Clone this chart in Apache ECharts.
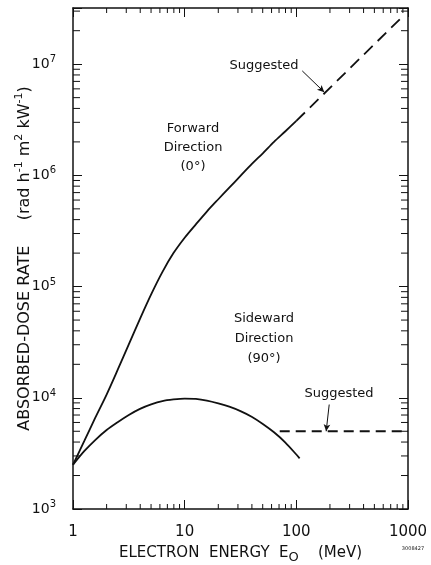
<!DOCTYPE html>
<html>
<head>
<meta charset="utf-8">
<style>
  html, body { margin: 0; padding: 0; background: #fff; }
  #chart { width: 431px; height: 565px; }
</style>
<script src="https://cdn.jsdelivr.net/npm/echarts@6/dist/echarts.min.js"></script>
</head>
<body>
<div id="chart"></div>
<script>
// axis ranges (log scale)
var X_MIN = 1, X_MAX = 1000;
var Y_MIN = 1000, Y_MAX = 3.2e7;

// forward direction (0 deg)
var forwardSolid = [[1, 2500], [1.26, 4070], [1.58, 6600], [2, 10700], [2.51, 17800], [3.16, 30200],
  [3.98, 51300], [5.01, 85100], [6.31, 135000], [7.94, 200000], [10, 275000], [12.6, 363000],
  [15.8, 473000], [20, 610000], [25.1, 776000], [31.6, 989000], [39.8, 1260000], [50.1, 1580000],
  [63.1, 2000000], [79.4, 2480000], [100, 3090000]];
var forwardSuggested = [[100, 3090000], [900, 27000000]];

// sideward direction (90 deg)
var sideSolid = [[1, 2500], [1.26, 3310], [1.58, 4170], [2, 5130], [2.51, 6030], [3.16, 7000],
  [3.98, 7940], [5.01, 8710], [6.31, 9330], [7.94, 9660], [10, 9840], [12.6, 9770], [15.8, 9440],
  [20, 8910], [25.1, 8320], [31.6, 7590], [39.8, 6760], [50.1, 5820], [63.1, 4900], [79.4, 3980],
  [100, 3090], [107, 2850]];
var sideSuggested = [[71, 5000], [1000, 5000]];

// "Suggested" pointer arrows
var arrowTop = [[113, 8.7e6], [178, 5.6e6]];
var arrowBottom = [[197, 8.7e3], [185, 5.0e3]];

// minor tick values
var xMinor = [2, 3, 4, 5, 6, 7, 8, 9, 20, 30, 40, 50, 60, 70, 80, 90, 200, 300, 400, 500, 600, 700, 800, 900];
var yMinor = [2e3, 3e3, 4e3, 5e3, 6e3, 7e3, 8e3, 9e3, 2e4, 3e4, 4e4, 5e4, 6e4, 7e4, 8e4, 9e4,
  2e5, 3e5, 4e5, 5e5, 6e5, 7e5, 8e5, 9e5, 2e6, 3e6, 4e6, 5e6, 6e6, 7e6, 8e6, 9e6, 2e7, 3e7];

var FONT = 'DejaVu Sans';
var INK = '#111';

function minorTicks(vals, isX) {
  return {
    type: 'custom',
    silent: true,
    clip: false,
    z: 5,
    data: vals.map(function (v) { return isX ? [v, Y_MIN] : [X_MIN, v]; }),
    renderItem: function (params, api) {
      var lines;
      if (isX) {
        var v = api.value(0);
        var a = api.coord([v, Y_MIN]), b = api.coord([v, Y_MAX]);
        lines = [[a[0], a[1], a[0], a[1] - 5], [b[0], b[1], b[0], b[1] + 5]];
      } else {
        var w = api.value(1);
        var c = api.coord([X_MIN, w]), d = api.coord([X_MAX, w]);
        lines = [[c[0], c[1], c[0] + 7, c[1]], [d[0], d[1], d[0] - 7, d[1]]];
      }
      return {
        type: 'group',
        children: lines.map(function (l) {
          return { type: 'line', shape: { x1: l[0], y1: l[1], x2: l[2], y2: l[3] }, style: { stroke: INK, lineWidth: 1 } };
        })
      };
    }
  };
}

function arrow(pts) {
  return {
    type: 'line', data: [], silent: true,
    markLine: {
      silent: true,
      symbol: ['none', 'arrow'],
      symbolSize: [5, 7],
      label: { show: false },
      lineStyle: { color: INK, width: 1, type: 'solid' },
      data: [[{ coord: pts[0] }, { coord: pts[1] }]]
    }
  };
}

var axisCommon = {
  type: 'log',
  logBase: 10,
  axisLine: { show: true, lineStyle: { color: INK, width: 1.5 } },
  axisTick: { show: true, inside: true, length: 9, lineStyle: { color: INK, width: 1 } },
  splitLine: { show: false },
  minorTick: { show: false }
};

var chart = echarts.init(document.getElementById('chart'), null, { renderer: 'canvas' });
chart.setOption({
  backgroundColor: '#fff',
  animation: false,
  textStyle: { fontFamily: FONT, color: INK },
  grid: { left: 73, right: 23, top: 8, bottom: 56, containLabel: false, outerBoundsMode: 'none' },
  xAxis: [
    Object.assign({}, axisCommon, {
      min: X_MIN, max: X_MAX, position: 'bottom',
      axisLabel: { show: true, margin: 16, fontSize: 15, fontFamily: FONT, color: INK,
        formatter: function (v) { return String(Math.round(v)); } },
      name: 'ELECTRON  ENERGY  E{sub|O}    (MeV)',
      nameLocation: 'middle',
      nameGap: 33,
      nameMoveOverlap: false,
      nameTextStyle: { fontSize: 15, fontFamily: FONT, color: INK,
        rich: { sub: { fontSize: 13, fontFamily: FONT, color: INK, padding: [9, 0, 0, 0] } } }
    }),
    Object.assign({}, axisCommon, {
      min: X_MIN, max: X_MAX, position: 'top',
      axisLabel: { show: false }
    })
  ],
  yAxis: [
    Object.assign({}, axisCommon, {
      min: Y_MIN, max: Y_MAX, position: 'left',
      axisLabel: {
        show: true, margin: 17, fontFamily: FONT, color: INK,
        formatter: function (v) {
          var e = Math.log10(v);
          if (Math.abs(e - Math.round(e)) > 1e-6) return '';
          return '{b|10}{s|' + Math.round(e) + '}';
        },
        rich: {
          b: { fontSize: 14, fontFamily: FONT, color: INK },
          s: { fontSize: 10, fontFamily: FONT, color: INK, padding: [0, 0, 9, 0] }
        }
      },
      name: 'ABSORBED-DOSE RATE     (rad h{s|-1} m{s|2} kW{s|-1})',
      nameLocation: 'middle',
      nameGap: 38,
      nameMoveOverlap: false,
      nameTextStyle: { fontSize: 16, fontFamily: FONT, color: INK,
        rich: { s: { fontSize: 11, fontFamily: FONT, color: INK, padding: [0, 0, 10, 0] } } }
    }),
    Object.assign({}, axisCommon, {
      min: Y_MIN, max: Y_MAX, position: 'right',
      axisLabel: { show: false }
    })
  ],
  series: [
    {
      name: 'Forward', type: 'line', data: forwardSolid, smooth: 0.3,
      showSymbol: false, silent: true, z: 3,
      lineStyle: { color: INK, width: 1.8 }
    },
    {
      name: 'Forward suggested', type: 'line', data: forwardSuggested,
      showSymbol: false, silent: true, z: 3,
      lineStyle: { color: INK, width: 1.8, type: [12, 7] }
    },
    {
      name: 'Sideward', type: 'line', data: sideSolid, smooth: 0.3,
      showSymbol: false, silent: true, z: 3,
      lineStyle: { color: INK, width: 1.8 }
    },
    {
      name: 'Sideward suggested', type: 'line', data: sideSuggested,
      showSymbol: false, silent: true, z: 3,
      lineStyle: { color: INK, width: 1.8, type: [10, 6] }
    },
    arrow(arrowTop),
    arrow(arrowBottom),
    minorTicks(xMinor, true),
    minorTicks(yMinor, false)
  ],
  graphic: [
    { type: 'text', x: 193, y: 119, style: { text: 'Forward\nDirection\n(0°)', align: 'center', verticalAlign: 'top',
      fontSize: 13, lineHeight: 19, fontFamily: FONT, fill: INK } },
    { type: 'text', x: 264, y: 309, style: { text: 'Sideward\nDirection\n(90°)', align: 'center', verticalAlign: 'top',
      fontSize: 13, lineHeight: 20, fontFamily: FONT, fill: INK } },
    { type: 'text', x: 264, y: 66, style: { text: 'Suggested', align: 'center', verticalAlign: 'middle',
      fontSize: 13, fontFamily: FONT, fill: INK } },
    { type: 'text', x: 339, y: 394, style: { text: 'Suggested', align: 'center', verticalAlign: 'middle',
      fontSize: 13, fontFamily: FONT, fill: INK } },
    { type: 'text', x: 413, y: 549, style: { text: '3008427', align: 'center', verticalAlign: 'middle',
      fontSize: 5, fontFamily: FONT, fill: INK } }
  ]
});
</script>
</body>
</html>
